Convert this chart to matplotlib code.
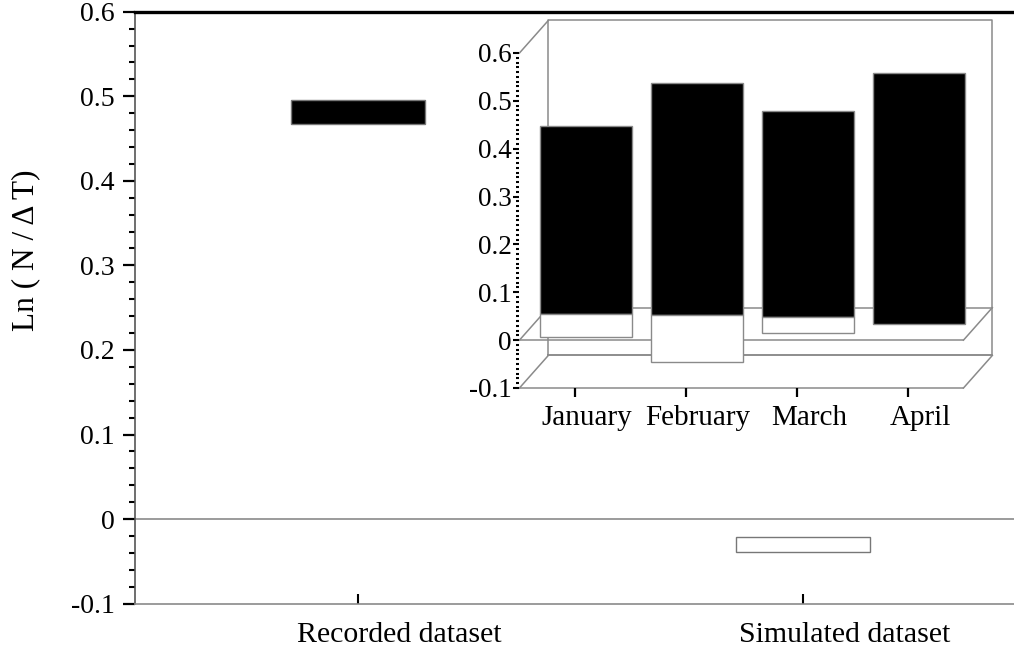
import numpy as np
import matplotlib
matplotlib.use("Agg")
import matplotlib.pyplot as plt
from matplotlib.ticker import MultipleLocator, FixedLocator
from matplotlib.transforms import ScaledTranslation

plt.rcParams['font.family'] = ['Liberation Serif', 'DejaVu Serif']
plt.rcParams['axes.unicode_minus'] = False

# main chart data (floating bars)
datasets = ['Recorded dataset', 'Simulated dataset']
bar_lo = [0.467, -0.039]
bar_hi = [0.496, -0.021]
bar_colors = ['black', 'white']

y_ticks = [-0.1, 0, 0.1, 0.2, 0.3, 0.4, 0.5, 0.6]
y_labels = ['-0.1', '0', '0.1', '0.2', '0.3', '0.4', '0.5', '0.6']

# inset data, read on the front axis
months = ['January', 'February', 'March', 'April']
black_lo = [0.054, 0.052, 0.048, 0.034]
black_hi = [0.447, 0.538, 0.479, 0.558]
white_lo = [0.006, -0.046, 0.015, np.nan]
white_hi = [0.054, 0.052, 0.048, np.nan]

gray = '#8a8a8a'

fig = plt.figure(figsize=(10.14, 6.46), dpi=100)

# main axes (right edge runs past the figure like the original)
ax = fig.add_axes([0.1336, 0.0655, 0.878, 0.9164])
x = np.arange(len(datasets))
ax.bar(x, np.subtract(bar_hi, bar_lo), bottom=bar_lo, width=0.3,
       color=bar_colors, edgecolor='#777777', linewidth=1, zorder=3)
ax.axhline(0, color=gray, lw=1.2, zorder=2)
ax.set_xlim(-0.5, 1.5)
ax.set_ylim(-0.1, 0.6)
ax.set_yticks(y_ticks, y_labels)
ax.yaxis.set_minor_locator(MultipleLocator(0.02))
ax.set_xticks(x, datasets)
ax.tick_params(axis='y', which='major', direction='out', length=9, width=1.6,
               pad=6, labelsize=20)
ax.tick_params(axis='y', which='minor', direction='out', length=4.5, width=1.5)
ax.tick_params(axis='x', direction='in', length=7, width=1.5, pad=13,
               labelsize=21.5)
ax.spines['right'].set_visible(False)
ax.spines['top'].set_linewidth(2.4)
ax.spines['top'].set_color('black')
ax.spines['bottom'].set_color(gray)
ax.spines['bottom'].set_linewidth(1.2)
ax.spines['left'].set_color('#555555')
ax.spines['left'].set_linewidth(1.2)

# category labels sit a bit right of their ticks
offset = ScaledTranslation(0.41, 0, fig.dpi_scale_trans)
for lab in ax.get_xticklabels():
    lab.set_transform(lab.get_transform() + offset)

fig.text(25.5 / 1014, 1 - 250 / 646, 'Ln ( N / \u0394 T)', rotation=90,
         ha='center', va='center', fontsize=22.5)

# inset pseudo-3D bar chart
ins = fig.add_axes([0.5123, 0.3994, 0.467, 0.5697])
ins.set_facecolor('none')
dx, dy = 0.26, 0.068
x0, x1 = -0.5, 3.5
y0, y1 = -0.1, 0.6
kw = dict(color=gray, lw=1.1, clip_on=False, zorder=1)

# back wall
ins.plot([x0 + dx, x1 + dx, x1 + dx, x0 + dx, x0 + dx],
         [y0 + dy, y0 + dy, y1 + dy, y1 + dy, y0 + dy], **kw)
ins.plot([x0, x0 + dx], [y1, y1 + dy], **kw)
# floors at 0 and -0.1
for lvl in (0, -0.1):
    ins.plot([x0, x1], [lvl, lvl], **kw)
    ins.plot([x0 + dx, x1 + dx], [lvl + dy, lvl + dy], **kw)
    ins.plot([x0, x0 + dx], [lvl, lvl + dy], **kw)
    ins.plot([x1, x1 + dx], [lvl, lvl + dy], **kw)

xm = np.arange(len(months))
ins.bar(xm + 0.1, np.subtract(black_hi, black_lo), bottom=black_lo, width=0.83,
        color='black', edgecolor=gray, linewidth=1, zorder=3)
wh = np.subtract(white_hi, white_lo)
ok = ~np.isnan(wh)
ins.bar(xm[ok] + 0.1, wh[ok], bottom=np.array(white_lo)[ok], width=0.83,
        color='white', edgecolor=gray, linewidth=1, zorder=3)

ins.set_xlim(x0, x1 + dx + 0.006)
ins.set_ylim(y0, y1 + dy + 0.001)
ins.set_xticks(xm, months)
ins.set_yticks(y_ticks, y_labels)
minor = [v / 100 for v in range(-10, 61) if v % 10]
ins.yaxis.set_minor_locator(FixedLocator(minor))
for s in ins.spines.values():
    s.set_visible(False)
ins.tick_params(axis='y', which='major', direction='out', length=4.5, width=1.5,
                pad=1, labelsize=19.5)
ins.tick_params(axis='y', which='minor', direction='out', length=2.2, width=1.5)
ins.tick_params(axis='x', direction='out', length=6.5, width=1.6, pad=6,
                labelsize=21)
month_shift = ScaledTranslation(0.12, 0, fig.dpi_scale_trans)
for lab in ins.get_xticklabels():
    lab.set_transform(lab.get_transform() + month_shift)

fig.savefig('out.png', dpi=100)
